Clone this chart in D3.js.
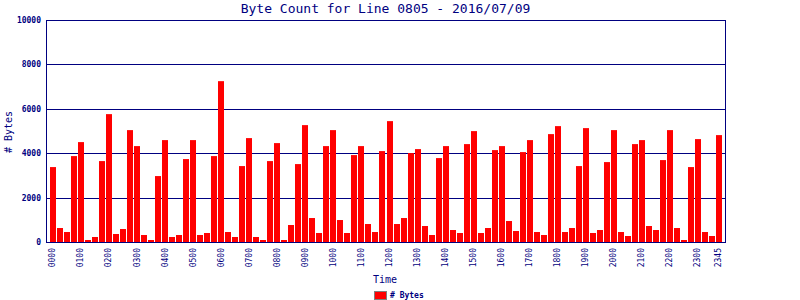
<!DOCTYPE html>
<html>
<head>
<meta charset="utf-8">
<script src="https://cdn.jsdelivr.net/npm/d3@7"></script>
<style>
  body { margin: 0; background: #fff; }
  text { font-family: "DejaVu Sans Mono", monospace; fill: #000080; }
</style>
</head>
<body>
<svg id="grafico"></svg>
<script>
// Dados do gráfico (intervalos de 15 minutos)
var horas = ['00','01','02','03','04','05','06','07','08','09','10','11',
             '12','13','14','15','16','17','18','19','20','21','22','23'];
var quartos = ['00','15','30','45'];
var tempos = [];
horas.forEach(h => quartos.forEach(q => tempos.push(h + q)));

var bytes = [
  3375, 630, 450, 3870, 4500, 90, 225, 3645, 5760, 360, 585, 5040,
  4320, 315, 90, 2970, 4590, 225, 315, 3735, 4590, 315, 405, 3870,
  7245, 450, 225, 3420, 4680, 225, 90, 3645, 4455, 90, 765, 3510,
  5265, 1080, 405, 4320, 5040, 990, 405, 3915, 4320, 810, 450, 4095,
  5445, 810, 1080, 4005, 4185, 720, 315, 3780, 4320, 540, 405, 4410,
  4995, 405, 630, 4140, 4320, 945, 495, 4050, 4590, 450, 315, 4860,
  5220, 450, 630, 3420, 5130, 405, 540, 3600, 5040, 450, 270, 4410,
  4590, 720, 540, 3690, 5040, 630, 90, 3375, 4635, 450, 270, 4815
];

var rotulosX = ['0000','0100','0200','0300','0400','0500','0600','0700','0800',
                '0900','1000','1100','1200','1300','1400','1500','1600','1700',
                '1800','1900','2000','2100','2200','2300','2345'];
var rotulosY = [0, 2000, 4000, 6000, 8000, 10000];

var largura = 800, altura = 300;
var margem = { esquerda: 46, direita: 75, superior: 20, inferior: 58 };
var azul = '#000080';

var svg = d3.select('#grafico')
            .attr('width', largura)
            .attr('height', altura);

var x = d3.scaleBand()
          .domain(tempos)
          .range([50, 722])
          .paddingInner(1/7)
          .paddingOuter(0);

var y = d3.scaleLinear()
          .domain([0, 10000])
          .range([altura - margem.inferior, margem.superior]);

var direita = largura - margem.direita;

// Linhas de grade
svg.append('g')
   .selectAll('line')
   .data(rotulosY.slice(1))
   .enter()
   .append('line')
   .attr('x1', margem.esquerda)
   .attr('x2', direita)
   .attr('y1', d => Math.round(y(d)) + 0.5)
   .attr('y2', d => Math.round(y(d)) + 0.5)
   .attr('stroke', azul);

// Barras
svg.append('g')
   .selectAll('rect')
   .data(bytes)
   .enter()
   .append('rect')
   .attr('x', (d, i) => Math.round(x(tempos[i])))
   .attr('width', 6)
   .attr('y', d => y(d))
   .attr('height', d => y(0) - y(d))
   .attr('fill', '#ff0000');

// Moldura da área de plotagem
svg.append('rect')
   .attr('x', margem.esquerda + 0.5)
   .attr('y', Math.round(y(10000)) + 0.5)
   .attr('width', direita - margem.esquerda)
   .attr('height', Math.round(y(0)) - Math.round(y(10000)))
   .attr('fill', 'none')
   .attr('stroke', azul);

// Eixo Y
var eixoY = svg.append('g')
   .attr('transform', 'translate(' + margem.esquerda + ',0)')
   .call(d3.axisLeft(y).tickValues(rotulosY).tickFormat(d3.format('d')).tickSize(0).tickPadding(5));
eixoY.select('.domain').remove();
eixoY.selectAll('text')
     .style('font-size', '8px')
     .style('font-weight', 'bold')
     .attr('fill', azul);

// Eixo X
var eixoX = svg.append('g')
   .attr('transform', 'translate(0,' + (y(0) + 6) + ')')
   .call(d3.axisBottom(x).tickValues(rotulosX).tickSize(0).tickPadding(0));
eixoX.select('.domain').remove();
eixoX.selectAll('text')
     .style('font-size', '8px')
     .attr('fill', azul)
     .style('text-anchor', 'end')
     .attr('transform', 'rotate(-90)')
     .attr('x', 0)
     .attr('y', 0)
     .attr('dx', 0)
     .attr('dy', '0.3em');

// Títulos
svg.append('text')
   .attr('x', (margem.esquerda + direita) / 2)
   .attr('y', 12.5)
   .style('text-anchor', 'middle')
   .style('font-size', '13px')
   .text('Byte Count for Line 0805 - 2016/07/09');

svg.append('text')
   .attr('transform', 'translate(12,' + (y(5000) + 1) + ') rotate(-90)')
   .style('text-anchor', 'middle')
   .style('font-size', '10px')
   .text('# Bytes');

svg.append('text')
   .attr('x', 385)
   .attr('y', 283)
   .style('text-anchor', 'middle')
   .style('font-size', '10px')
   .text('Time');

// Legenda
svg.append('rect')
   .attr('x', 374.5)
   .attr('y', 291.5)
   .attr('width', 12)
   .attr('height', 8)
   .attr('fill', '#ff0000')
   .attr('stroke', '#808080');

svg.append('text')
   .attr('x', 390)
   .attr('y', 298)
   .style('font-size', '8px')
   .style('font-weight', 'bold')
   .text('# Bytes');
</script>
</body>
</html>
